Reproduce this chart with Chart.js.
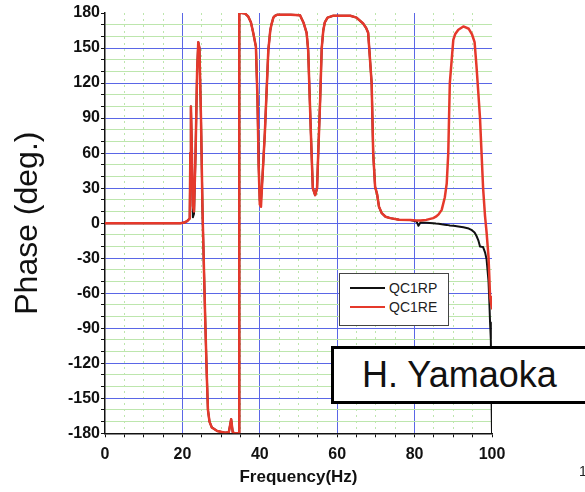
<!DOCTYPE html>
<html>
<head>
<meta charset="utf-8">
<script src="https://cdn.jsdelivr.net/npm/chart.js@4.4.1/dist/chart.umd.min.js"></script>
<style>
  body { margin: 0; background: #fff; width: 585px; height: 492px; overflow: hidden; position: relative; font-family: "Liberation Sans", Arial, sans-serif; }
  #chart { position: absolute; left: 0; top: 0; }
  #legend { position: absolute; left: 339px; top: 273px; width: 108px; height: 47px; border: 1px solid #444; background: #fff; padding-top: 4px; box-sizing: content-box; }
  .row { display: flex; align-items: center; height: 19px; font-size: 14px; color: #222; }
  .swatch { width: 35px; margin-left: 10px; margin-right: 4px; }
  #author { position: absolute; left: 331px; top: 346px; width: 270px; height: 52px; border: 3px solid #000; background: #fff; font-size: 36px; line-height: 52px; padding-left: 28px; color: #111; }
  #page { position: absolute; left: 579px; top: 463px; font-size: 14px; color: #222; }
</style>
</head>
<body>
<canvas id="chart" width="585" height="492"></canvas>
<div id="legend"></div>
<div id="author">H. Yamaoka</div>
<div id="page">1</div>
<script>
// frequency samples (Hz), shared by both series
const freq = [
  0, 10, 19.5, 20.5, 21.3, 21.9, 22.05, 22.2, 22.4, 22.7, 23.0, 23.4, 23.8, 24.1, 24.4, 24.8,
  25.2, 25.5, 25.9, 26.3, 26.6, 27.0, 27.6, 29, 31, 32.0, 32.6, 33.0, 33.5, 34.65, 34.7, 35.3,
  36.2, 37, 37.7, 38.3, 39, 39.4, 39.7, 40.0, 40.3, 40.7, 41.3, 42.2, 42.7, 43.0, 43.5, 43.9,
  44.5, 48, 50.4, 51.3, 52.1, 52.5, 53.2, 53.7, 54.3, 54.8, 55.1, 55.6, 56.0, 56.4, 56.8, 57.5,
  59, 63.4, 65, 66.7, 67.5, 68, 68.9, 69.3, 69.8, 70.3, 70.8, 71.5, 72.5, 73.7, 76, 78.9,
  80.5, 81.0, 81.5, 83, 84.8, 85.5, 86.2, 87, 87.8, 88.3, 88.7, 89.1, 90, 90.5, 91.3, 92.6,
  94, 94.8, 95.5, 96.0, 96.5, 96.9, 97.3, 97.7, 98.2, 98.6, 99.1, 99.3, 99.5, 99.7, 100
];

// QC1RE phase (deg)
const phaseRE = [
  0, 0, 0, 0.5, 2, 4, 60, 100, 70, 15, 10, 60, 130, 155, 150, 90,
  10, -30, -83, -130, -160, -170, -175, -178, -179.5, -179, -168, -179, -180, -180, 180, 180,
  179.5, 177, 172, 163, 151, 106, 50, 16, 14, 40, 77, 148, 165, 170, 176, 177.5,
  178.5, 178.6, 178, 171.7, 163, 148, 77, 30, 24, 30, 60, 106, 150, 165, 172, 176,
  177.7, 177.7, 176, 171, 167, 163, 120, 60, 31, 25, 14, 8.6, 5.5, 4.3, 3, 2.6,
  2.2, 2.2, 2.3, 2.8, 4.3, 5.5, 7.5, 11.4, 22, 34, 60, 120, 157, 162, 165.7, 168.5,
  166.5, 162, 155, 134, 110, 90, 60, 30, 6, -8, -29, -45, -63, -68, -73
];

// QC1RP phase (deg)
const phaseRP = [
  0, 0, 0, 0.5, 2, 4, 60, 100, 70, 5, 8, 60, 130, 155, 150, 90,
  10, -30, -83, -130, -160, -170, -175, -178, -179.5, -179, -168, -179, -180, -180, 180, 180,
  179.5, 177, 172, 163, 151, 106, 50, 19, 19, 40, 77, 148, 165, 170, 176, 177.5,
  178.5, 178.6, 178, 171.7, 163, 148, 77, 30, 24, 30, 60, 106, 150, 165, 172, 176,
  177.7, 177.7, 176, 171, 167, 163, 120, 60, 31, 25, 14, 8.6, 5.5, 4.3, 3, 2.6,
  1.5, -2.3, 0.5, 0.3, 0, -0.3, -0.5, -1, -1.3, -1.5, -1.7, -2, -2.3, -2.5, -2.8, -3.5,
  -4.6, -6, -8, -11, -15, -20, -20.3, -20.5, -25, -31, -50, -66, -85, -100, -180
];

const seriesNames = ["QC1RP", "QC1RE"];
const seriesColors = ["#111111", "#e5392b"];

const BLUE = "#5a66e6";
const GREEN = "#bde6ad";

const toPoints = (ys) => freq.map((f, i) => ({ x: f, y: ys[i] }));

const chart = new Chart(document.getElementById("chart"), {
  type: "line",
  data: {
    datasets: [
      { label: seriesNames[0], data: toPoints(phaseRP), borderColor: seriesColors[0], borderWidth: 2, order: 1 },
      { label: seriesNames[1], data: toPoints(phaseRE), borderColor: seriesColors[1], borderWidth: 2.5, order: 0 }
    ]
  },
  options: {
    responsive: false,
    animation: false,
    layout: { padding: { top: 13, right: 93, left: 0, bottom: 0 } },
    elements: { point: { radius: 0 }, line: { tension: 0, borderJoinStyle: "round", borderCapStyle: "round" } },
    plugins: { legend: { display: false }, tooltip: { enabled: false } },
    scales: {
      x: {
        type: "linear",
        min: 0,
        max: 100,
        afterFit: (s) => { s.height = 58.7; },
        ticks: {
          stepSize: 5,
          autoSkip: false,
          maxRotation: 0,
          padding: 8,
          color: "#111",
          font: { family: "Liberation Sans", size: 16, weight: "bold" },
          callback: (v) => (v % 20 === 0 ? v : "")
        },
        grid: {
          color: (c) => {
            const v = c.tick ? c.tick.value : 0;
            if (v === 0 || v === 100) return "rgba(0,0,0,0)";
            return v % 20 === 0 ? BLUE : GREEN;
          },
          lineWidth: 1,
          tickColor: "#111",
          tickLength: 4
        },
        border: {
          color: "#111",
          width: 1.5,
          dash: (c) => (c.tick && c.tick.value % 20 !== 0 ? [2, 4] : [])
        },
        title: {
          display: true,
          text: "Frequency(Hz)",
          color: "#111",
          font: { family: "Liberation Sans", size: 17, weight: "bold" },
          padding: { top: 0, bottom: 4 }
        }
      },
      y: {
        min: -180,
        max: 180,
        afterFit: (s) => { s.width = 105; },
        ticks: {
          stepSize: 10,
          autoSkip: false,
          padding: 1,
          color: "#111",
          font: { family: "Liberation Sans", size: 16, weight: "bold" },
          callback: (v) => (v % 30 === 0 ? v : "")
        },
        grid: {
          color: (c) => {
            const v = c.tick ? c.tick.value : 0;
            if (v === 180 || v === -180) return "rgba(0,0,0,0)";
            return v % 30 === 0 ? BLUE : GREEN;
          },
          lineWidth: 1,
          tickColor: "#111",
          tickLength: 4
        },
        border: { color: "#111", width: 1.5 },
        title: {
          display: true,
          text: "Phase (deg.)",
          color: "#111",
          font: { family: "Liberation Sans", size: 32 },
          padding: { top: 9, bottom: 0 }
        }
      }
    }
  }
});

// legend inside the plot, built from the series
const legend = document.getElementById("legend");
seriesNames.forEach((name, i) => {
  const row = document.createElement("div");
  row.className = "row";
  const sw = document.createElement("div");
  sw.className = "swatch";
  sw.style.borderTop = "2px solid " + seriesColors[i];
  const label = document.createElement("span");
  label.textContent = name;
  row.appendChild(sw);
  row.appendChild(label);
  legend.appendChild(row);
});
</script>
</body>
</html>
